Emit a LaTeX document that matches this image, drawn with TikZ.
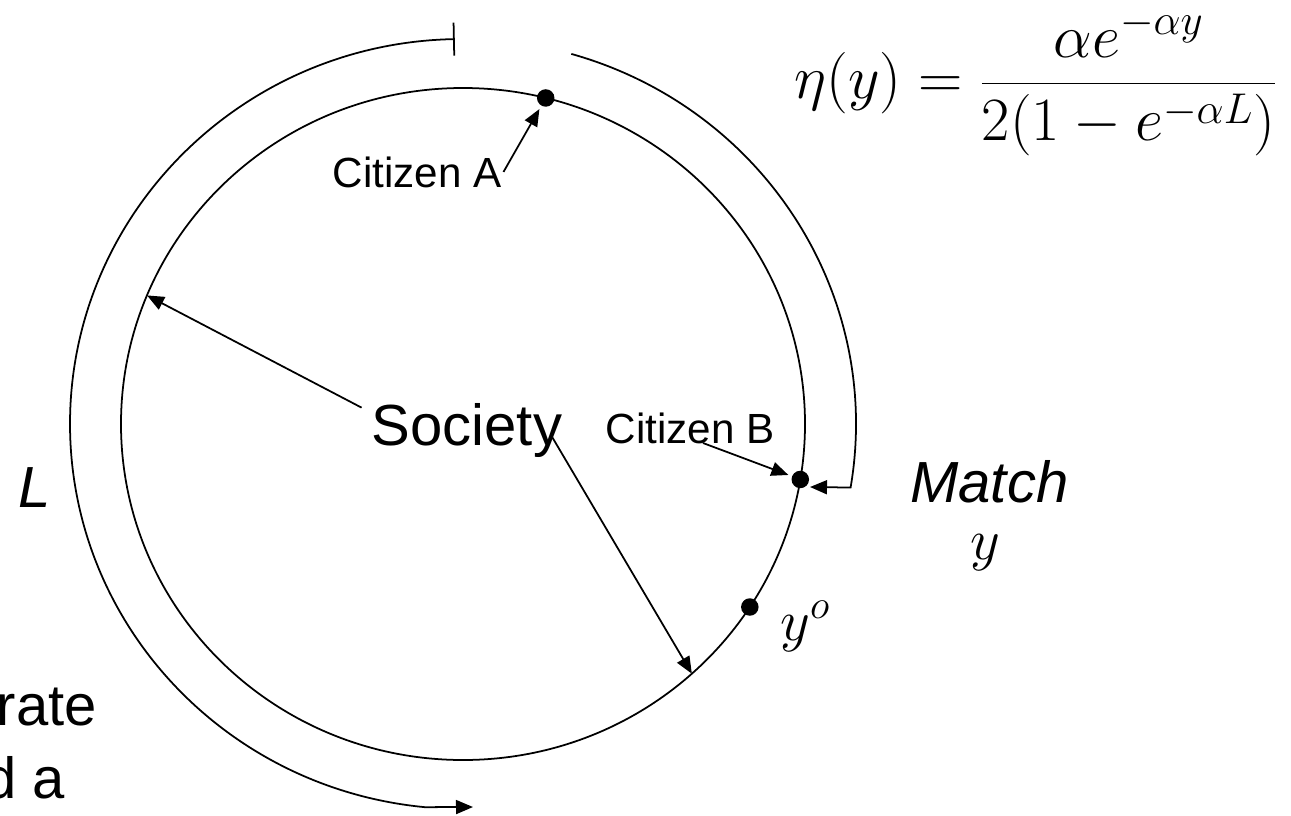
\documentclass[tikz,border=0pt]{standalone}
\usepackage{fix-cm}
\usepackage{amsmath}
\usepackage{fontspec}
\setmainfont{Liberation Sans}
\usepackage{tikz}
\usetikzlibrary{arrows.meta}

\begin{document}
\begin{tikzpicture}[
        big/.style={font=\fontsize{33}{40}\selectfont, inner sep=0pt},
        small/.style={font=\fontsize{24}{29}\selectfont, inner sep=1pt},
        dot/.style={circle, fill=black, inner sep=0pt, minimum size=0.35cm, outer sep=0.08cm},
        arrow/.style={-{Triangle[length=0.34cm, width=0.28cm]}, line width=1pt}
    ]
    \clip (-9.26,-7.82) rectangle (16.56,8.48);

    % society and the ring of opinions
    \draw [line width=1pt] (0,0) ellipse [x radius=6.84, y radius=6.72];

    \node (society) at (0.08, -0.42) [big, anchor=base] {Society};
    \node (citA) at (-0.92, 4.74) [small, anchor=base] {Citizen A};
    \node (citB) at (4.54, -0.38) [small, anchor=base] {Citizen B};

    \node (dotA) at (76:6.84 and 6.72) [dot] {};
    \node (dotB) at (-9.5:6.84 and 6.72) [dot] {};
    \node (dotY) at (-33:6.84 and 6.72) [dot] {};

    \coordinate (leftrim) at (157.5:6.84 and 6.72);
    \coordinate (lowrim) at (-48:6.84 and 6.72);
    \coordinate (matchtip) at (6.94, -1.26);
    \coordinate (lowend) at (0.2, -7.66);

    \node (len) at (-8.9, -1.66) [big, anchor=base west] {\itshape L};
    \node (match) at (8.94, -1.56) [big, anchor=base west] {\itshape Match};
    \node (ymatch) at (10.14, -2.7) [big, anchor=base west] {$y$};
    \node (yo) at (6.34, -4.32) [big, anchor=base west] {$y^o$};
    \node (eta) at (6.62, 6.82) [anchor=west, inner sep=0pt, font=\fontsize{35}{42}\selectfont]
        {$\eta(y) = \dfrac{\alpha e^{-\alpha y}}{2(1-e^{-\alpha L})}$};

    \node (rate) at (-7.32, -6.02) [big, anchor=base east] {rate};
    \node (anda) at (-7.96, -7.48) [big, anchor=base east] {d a};

    \draw [arrow] ([xshift=-0.2cm, yshift=-0.1cm]society.north west) -- (leftrim);
    \draw [arrow] ([xshift=-0.2cm, yshift=-0.15cm]society.east) -- (lowrim);
    \draw [arrow] (citA.east) -- (dotA);
    \draw [arrow] ([xshift=0.26cm]citB.base) -- (dotB);

    % outer arcs
    \draw [arrow] (74:7.86 and 7.7) arc [start angle=74, end angle=-9.5, x radius=7.86, y radius=7.7] -- (matchtip);
    \draw [{Bar[width=0.66cm]}-{Triangle[length=0.34cm, width=0.28cm]}, line width=1pt]
        (91.2:7.86 and 7.7) arc [start angle=91.2, end angle=264.4, x radius=7.86, y radius=7.7] -- (lowend);

\end{tikzpicture}
\end{document}
